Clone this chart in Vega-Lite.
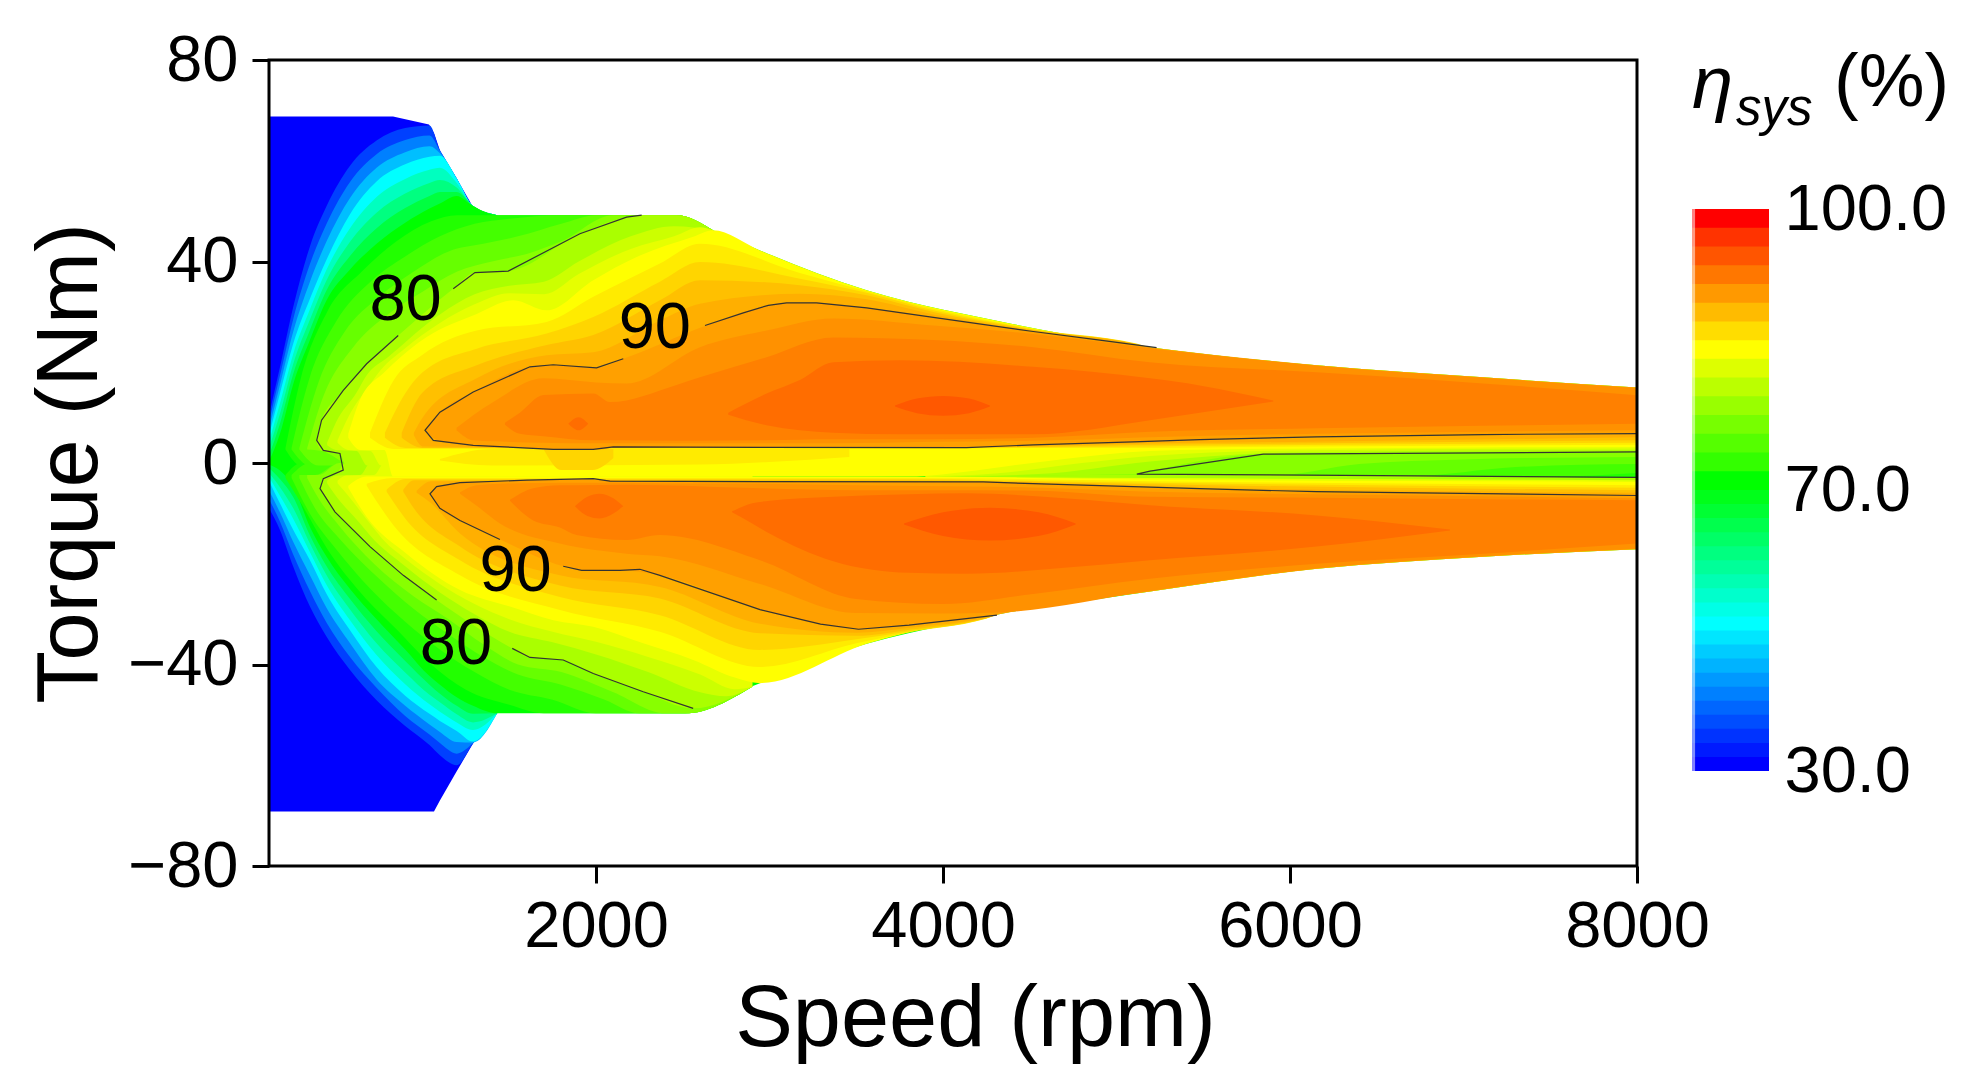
{"$schema":"https://vega.github.io/schema/vega-lite/v6.json","background":"white","padding":{"left":27,"top":28,"right":5,"bottom":5},"bounds":"flush","spacing":55,"config":{"view":{"stroke":null},"font":"Liberation Sans","axis":{"grid":false,"labelFont":"Liberation Sans","titleFont":"Liberation Sans","labelFontSize":65,"titleFontSize":86.5,"titleFontWeight":"normal","labelColor":"#000","titleColor":"#000","tickColor":"#000","domainColor":"#000","tickWidth":3,"domainWidth":3,"tickSize":17}},"datasets":{"bands":[
{"l":30,"p":"m","s":115,"a":-69.2,"b":68.8},{"l":30,"p":"m","s":830,"a":-69.2,"b":68.8},{"l":30,"p":"m","s":1037,"a":-69.2,"b":67.2},{"l":30,"p":"m","s":1066,"a":-69.2,"b":65.5},{"l":30,"p":"m","s":1100,"a":-67,"b":62.1},{"l":30,"p":"m","s":1197,"a":-61.2,"b":56.5},{"l":30,"p":"m","s":1291,"a":-55.7,"b":50.8},{"l":30,"p":"m","s":1341,"a":-53,"b":48.9},{"l":30,"p":"m","s":1430,"a":-49.4,"b":48.9},{"l":30,"p":"m","s":2465,"a":-49.4,"b":48.9},{"l":30,"p":"m","s":2513,"a":-49.4,"b":48},{"l":30,"p":"m","s":2674,"a":-46.8,"b":45.7},{"l":30,"p":"m","s":2945,"a":-43.2,"b":41.7},{"l":30,"p":"m","s":3560,"a":-35.4,"b":33.8},{"l":30,"p":"m","s":3800,"a":-33.3,"b":31.5},{"l":30,"p":"m","s":4190,"a":-30.5,"b":28.6},{"l":30,"p":"m","s":4400,"a":-29,"b":27.1},{"l":30,"p":"m","s":4700,"a":-27.5,"b":25.1},{"l":30,"p":"m","s":5193,"a":-25,"b":22.5},{"l":30,"p":"m","s":6155,"a":-20.5,"b":18.9},{"l":30,"p":"m","s":7113,"a":-18.1,"b":16.5},{"l":30,"p":"m","s":8000,"a":-16.6,"b":14.5},
{"l":35,"p":"m","s":115,"a":-9,"b":9.5},{"l":35,"p":"m","s":178,"a":-13.3,"b":19},{"l":35,"p":"m","s":255,"a":-20.6,"b":31},{"l":35,"p":"m","s":351,"a":-28.5,"b":43},{"l":35,"p":"m","s":447,"a":-34.5,"b":51},{"l":35,"p":"m","s":582,"a":-41.1,"b":59},{"l":35,"p":"m","s":735,"a":-47.1,"b":64},{"l":35,"p":"m","s":900,"a":-52.2,"b":66.5},{"l":35,"p":"m","s":1040,"a":-56,"b":67},{"l":35,"p":"m","s":1100,"a":-58,"b":62.1},{"l":35,"p":"m","s":1197,"a":-60,"b":56.5},{"l":35,"p":"m","s":1291,"a":-55.7,"b":51},{"l":35,"p":"m","s":1430,"a":-49.7,"b":49.2},
{"l":40,"p":"m","s":115,"a":-7.2,"b":8.2},{"l":40,"p":"m","s":178,"a":-11.6,"b":17.3},{"l":40,"p":"m","s":255,"a":-18.2,"b":28.6},{"l":40,"p":"m","s":351,"a":-25.4,"b":39.5},{"l":40,"p":"m","s":447,"a":-31.7,"b":47.5},{"l":40,"p":"m","s":582,"a":-38.5,"b":55.8},{"l":40,"p":"m","s":735,"a":-44.6,"b":61.3},{"l":40,"p":"m","s":900,"a":-50.2,"b":64.1},{"l":40,"p":"m","s":1040,"a":-53.9,"b":65},{"l":40,"p":"m","s":1100,"a":-55.6,"b":62},{"l":40,"p":"m","s":1197,"a":-57.7,"b":56.5},{"l":40,"p":"m","s":1291,"a":-55.6,"b":51},{"l":40,"p":"m","s":1430,"a":-49.7,"b":49.2},
{"l":45,"p":"m","s":115,"a":-5.4,"b":6.8},{"l":45,"p":"m","s":178,"a":-9.8,"b":15.5},{"l":45,"p":"m","s":255,"a":-15.7,"b":26.1},{"l":45,"p":"m","s":351,"a":-22.3,"b":36},{"l":45,"p":"m","s":447,"a":-28.8,"b":44},{"l":45,"p":"m","s":582,"a":-35.8,"b":52.6},{"l":45,"p":"m","s":735,"a":-43,"b":58.6},{"l":45,"p":"m","s":900,"a":-48.2,"b":61.7},{"l":45,"p":"m","s":1040,"a":-51.9,"b":62.9},{"l":45,"p":"m","s":1100,"a":-53.4,"b":61.5},{"l":45,"p":"m","s":1197,"a":-55.4,"b":56.5},{"l":45,"p":"m","s":1291,"a":-55.5,"b":51},{"l":45,"p":"m","s":1430,"a":-49.7,"b":49.2},
{"l":50,"p":"m","s":115,"a":-3.5,"b":5.5},{"l":50,"p":"m","s":178,"a":-8,"b":13.8},{"l":50,"p":"m","s":255,"a":-13.3,"b":23.7},{"l":50,"p":"m","s":351,"a":-19.3,"b":32.6},{"l":50,"p":"m","s":447,"a":-26,"b":40.4},{"l":50,"p":"m","s":582,"a":-33.2,"b":49.4},{"l":50,"p":"m","s":735,"a":-40.5,"b":55.9},{"l":50,"p":"m","s":900,"a":-46.2,"b":59.3},{"l":50,"p":"m","s":1040,"a":-49.8,"b":60.8},{"l":50,"p":"m","s":1100,"a":-51.2,"b":61},{"l":50,"p":"m","s":1197,"a":-53.2,"b":56.5},{"l":50,"p":"m","s":1291,"a":-55.3,"b":51},{"l":50,"p":"m","s":1430,"a":-49.7,"b":49.2},
{"l":55,"p":"m","s":115,"a":-2.8,"b":4.2},{"l":55,"p":"m","s":178,"a":-6.5,"b":11.8},{"l":55,"p":"m","s":255,"a":-11.1,"b":21.7},{"l":55,"p":"m","s":351,"a":-17.7,"b":30.5},{"l":55,"p":"m","s":447,"a":-24.2,"b":38.4},{"l":55,"p":"m","s":582,"a":-31.2,"b":46.6},{"l":55,"p":"m","s":735,"a":-38.1,"b":52.8},{"l":55,"p":"m","s":900,"a":-43.9,"b":56.4},{"l":55,"p":"m","s":1040,"a":-47.9,"b":58.2},{"l":55,"p":"m","s":1100,"a":-49.4,"b":58.6},{"l":55,"p":"m","s":1197,"a":-51.5,"b":55.6},{"l":55,"p":"m","s":1291,"a":-53,"b":51},{"l":55,"p":"m","s":1430,"a":-49.7,"b":49.2},
{"l":60,"p":"m","s":115,"a":-2,"b":3},{"l":60,"p":"m","s":178,"a":-4.8,"b":9.8},{"l":60,"p":"m","s":255,"a":-9,"b":19.7},{"l":60,"p":"m","s":351,"a":-16,"b":28.5},{"l":60,"p":"m","s":447,"a":-22.3,"b":36.3},{"l":60,"p":"m","s":582,"a":-29.1,"b":43.9},{"l":60,"p":"m","s":735,"a":-35.8,"b":49.7},{"l":60,"p":"m","s":900,"a":-41.6,"b":53.5},{"l":60,"p":"m","s":1040,"a":-46,"b":55.6},{"l":60,"p":"m","s":1100,"a":-47.5,"b":56.2},{"l":60,"p":"m","s":1197,"a":-49.9,"b":54.7},{"l":60,"p":"m","s":1291,"a":-51.5,"b":51},{"l":60,"p":"m","s":1430,"a":-49.7,"b":49.2},
{"l":65,"p":"m","s":115,"a":-1,"b":1.5},{"l":65,"p":"m","s":178,"a":-3.2,"b":7.8},{"l":65,"p":"m","s":255,"a":-6.8,"b":17.7},{"l":65,"p":"m","s":351,"a":-14.4,"b":26.4},{"l":65,"p":"m","s":447,"a":-20.5,"b":34.3},{"l":65,"p":"m","s":582,"a":-27,"b":41.1},{"l":65,"p":"m","s":735,"a":-33.4,"b":46.6},{"l":65,"p":"m","s":900,"a":-39.3,"b":50.6},{"l":65,"p":"m","s":1040,"a":-44,"b":53},{"l":65,"p":"m","s":1100,"a":-45.8,"b":53.8},{"l":65,"p":"m","s":1197,"a":-48.2,"b":53.8},{"l":65,"p":"m","s":1291,"a":-49.8,"b":51},{"l":65,"p":"m","s":1430,"a":-49.7,"b":49.2},
{"l":70,"p":"m","s":115,"a":-0.3,"b":0.3},{"l":70,"p":"m","s":178,"a":-1.5,"b":5.8},{"l":70,"p":"m","s":255,"a":-4.7,"b":15.7},{"l":70,"p":"m","s":351,"a":-12.7,"b":24.4},{"l":70,"p":"m","s":447,"a":-18.6,"b":32.3},{"l":70,"p":"m","s":582,"a":-25,"b":38.4},{"l":70,"p":"m","s":735,"a":-31,"b":43.5},{"l":70,"p":"m","s":900,"a":-37,"b":47.7},{"l":70,"p":"m","s":1040,"a":-42.3,"b":50.5},{"l":70,"p":"m","s":1100,"a":-44,"b":51.5},{"l":70,"p":"m","s":1197,"a":-46.5,"b":53},{"l":70,"p":"m","s":1291,"a":-48.2,"b":51},{"l":70,"p":"m","s":1430,"a":-49.7,"b":49.2},{"l":70,"p":"m","s":2465,"a":-49.7,"b":49.2},{"l":70,"p":"m","s":2513,"a":-49.7,"b":48.5},{"l":70,"p":"m","s":2674,"a":-47.3,"b":46.2},{"l":70,"p":"m","s":2945,"a":-43.7,"b":42.2},{"l":70,"p":"m","s":3560,"a":-35.9,"b":34.3},{"l":70,"p":"m","s":3800,"a":-33.8,"b":32},{"l":70,"p":"m","s":4190,"a":-31,"b":29.1},{"l":70,"p":"m","s":4400,"a":-29.5,"b":27.6},{"l":70,"p":"m","s":4700,"a":-28,"b":25.6},{"l":70,"p":"m","s":5193,"a":-25.5,"b":23},{"l":70,"p":"m","s":6155,"a":-21,"b":19.4},{"l":70,"p":"m","s":7113,"a":-18.6,"b":17},{"l":70,"p":"m","s":8000,"a":-17.1,"b":15},
{"l":72,"p":"u","s":210,"a":2.7,"b":3},{"l":72,"p":"u","s":300,"a":-0.5,"b":17},{"l":72,"p":"u","s":450,"a":-0.5,"b":30},{"l":72,"p":"u","s":650,"a":-0.5,"b":38},{"l":72,"p":"u","s":850,"a":-0.5,"b":44},{"l":72,"p":"u","s":1050,"a":-0.5,"b":48},{"l":72,"p":"u","s":1200,"a":-0.5,"b":49.2},{"l":72,"p":"u","s":2465,"a":-0.5,"b":49.2},{"l":72,"p":"u","s":2674,"a":-0.5,"b":46.2},
{"l":72,"p":"d","s":210,"a":-3,"b":-2.4},{"l":72,"p":"d","s":300,"a":-8,"b":0},{"l":72,"p":"d","s":450,"a":-17,"b":0},{"l":72,"p":"d","s":650,"a":-26,"b":0},{"l":72,"p":"d","s":850,"a":-33,"b":0},{"l":72,"p":"d","s":1050,"a":-40,"b":0},{"l":72,"p":"d","s":1250,"a":-45,"b":0},{"l":72,"p":"d","s":1500,"a":-48,"b":0},{"l":72,"p":"d","s":1700,"a":-49.7,"b":0},{"l":72,"p":"d","s":2513,"a":-49.7,"b":0},{"l":72,"p":"d","s":2900,"a":-44.4,"b":0},
{"l":72,"p":"r","s":3900,"a":-3,"b":3.6},{"l":72,"p":"r","s":8000,"a":-3,"b":3.6},
{"l":74,"p":"u","s":245,"a":2.7,"b":3},{"l":74,"p":"u","s":350,"a":-0.5,"b":17},{"l":74,"p":"u","s":500,"a":-0.5,"b":28},{"l":74,"p":"u","s":700,"a":-0.5,"b":36},{"l":74,"p":"u","s":900,"a":-0.5,"b":41},{"l":74,"p":"u","s":1100,"a":-0.5,"b":45},{"l":74,"p":"u","s":1300,"a":-0.5,"b":47.5},{"l":74,"p":"u","s":1500,"a":-0.5,"b":48.5},{"l":74,"p":"u","s":1800,"a":-0.5,"b":49.2},{"l":74,"p":"u","s":2465,"a":-0.5,"b":49.2},{"l":74,"p":"u","s":2674,"a":-0.5,"b":46.2},
{"l":74,"p":"d","s":245,"a":-3,"b":-2.4},{"l":74,"p":"d","s":350,"a":-10,"b":0},{"l":74,"p":"d","s":500,"a":-17,"b":0},{"l":74,"p":"d","s":700,"a":-25,"b":0},{"l":74,"p":"d","s":900,"a":-31.5,"b":0},{"l":74,"p":"d","s":1100,"a":-37,"b":0},{"l":74,"p":"d","s":1300,"a":-41.5,"b":0},{"l":74,"p":"d","s":1500,"a":-45,"b":0},{"l":74,"p":"d","s":1750,"a":-47,"b":0},{"l":74,"p":"d","s":2000,"a":-49.7,"b":0},{"l":74,"p":"d","s":2513,"a":-49.7,"b":0},{"l":74,"p":"d","s":2900,"a":-44.4,"b":0},
{"l":74,"p":"r","s":3900,"a":-2.75,"b":3.6},{"l":74,"p":"r","s":7500,"a":-2.7,"b":3.6},{"l":74,"p":"r","s":8000,"a":-2,"b":3.6},
{"l":76,"p":"u","s":290,"a":2.7,"b":3},{"l":76,"p":"u","s":400,"a":-0.5,"b":16},{"l":76,"p":"u","s":550,"a":-0.5,"b":26},{"l":76,"p":"u","s":750,"a":-0.5,"b":33},{"l":76,"p":"u","s":950,"a":-0.5,"b":38},{"l":76,"p":"u","s":1150,"a":-0.5,"b":42},{"l":76,"p":"u","s":1350,"a":-0.5,"b":43.5},{"l":76,"p":"u","s":1550,"a":-0.5,"b":45},{"l":76,"p":"u","s":1800,"a":-0.5,"b":47.5},{"l":76,"p":"u","s":2000,"a":-0.5,"b":49.2},{"l":76,"p":"u","s":2465,"a":-0.5,"b":49.2},{"l":76,"p":"u","s":2674,"a":-0.5,"b":46.2},
{"l":76,"p":"d","s":290,"a":-3,"b":-2.4},{"l":76,"p":"d","s":380,"a":-9,"b":-2.4},{"l":76,"p":"d","s":520,"a":-15,"b":0},{"l":76,"p":"d","s":750,"a":-23,"b":0},{"l":76,"p":"d","s":950,"a":-29,"b":0},{"l":76,"p":"d","s":1150,"a":-34,"b":0},{"l":76,"p":"d","s":1350,"a":-38.5,"b":0},{"l":76,"p":"d","s":1550,"a":-42,"b":0},{"l":76,"p":"d","s":1800,"a":-44,"b":0},{"l":76,"p":"d","s":2050,"a":-47,"b":0},{"l":76,"p":"d","s":2250,"a":-49.7,"b":0},{"l":76,"p":"d","s":2513,"a":-49.7,"b":0},{"l":76,"p":"d","s":2900,"a":-44.4,"b":0},
{"l":76,"p":"r","s":3900,"a":-2.7,"b":3.6},{"l":76,"p":"r","s":6700,"a":-2.6,"b":3.6},{"l":76,"p":"r","s":7300,"a":-0.8,"b":3.6},{"l":76,"p":"r","s":8000,"a":-0.2,"b":3.6},
{"l":78,"p":"u","s":335,"a":2.7,"b":3},{"l":78,"p":"u","s":420,"a":2.4,"b":12.5},{"l":78,"p":"u","s":600,"a":-0.5,"b":23},{"l":78,"p":"u","s":800,"a":-0.5,"b":29.5},{"l":78,"p":"u","s":1000,"a":-0.5,"b":34},{"l":78,"p":"u","s":1200,"a":-0.5,"b":38},{"l":78,"p":"u","s":1400,"a":-0.5,"b":40},{"l":78,"p":"u","s":1600,"a":-0.5,"b":41.5},{"l":78,"p":"u","s":1800,"a":-0.5,"b":44},{"l":78,"p":"u","s":2100,"a":-0.5,"b":49.2},{"l":78,"p":"u","s":2465,"a":-0.5,"b":49.2},{"l":78,"p":"u","s":2674,"a":-0.5,"b":46.2},
{"l":78,"p":"d","s":335,"a":-3,"b":-2.4},{"l":78,"p":"d","s":400,"a":-7,"b":-2.4},{"l":78,"p":"d","s":520,"a":-12.5,"b":0},{"l":78,"p":"d","s":720,"a":-20,"b":0},{"l":78,"p":"d","s":950,"a":-26.5,"b":0},{"l":78,"p":"d","s":1150,"a":-31,"b":0},{"l":78,"p":"d","s":1350,"a":-36,"b":0},{"l":78,"p":"d","s":1550,"a":-40,"b":0},{"l":78,"p":"d","s":1800,"a":-41.5,"b":0},{"l":78,"p":"d","s":2100,"a":-45.5,"b":0},{"l":78,"p":"d","s":2400,"a":-49.7,"b":0},{"l":78,"p":"d","s":2513,"a":-49.7,"b":0},{"l":78,"p":"d","s":2900,"a":-44.4,"b":0},
{"l":78,"p":"r","s":3900,"a":-2.7,"b":3.6},{"l":78,"p":"r","s":5900,"a":-2.5,"b":3.6},{"l":78,"p":"r","s":6400,"a":-0.2,"b":3.6},{"l":78,"p":"r","s":7000,"a":0.7,"b":3.6},{"l":78,"p":"r","s":8000,"a":1.2,"b":3.6},
{"l":80,"p":"u","s":390,"a":4,"b":5},{"l":80,"p":"u","s":418,"a":2.5,"b":8.5},{"l":80,"p":"u","s":524,"a":1.9,"b":13.5},{"l":80,"p":"u","s":560,"a":-0.5,"b":15},{"l":80,"p":"u","s":678,"a":-0.5,"b":19.7},{"l":80,"p":"u","s":860,"a":-0.5,"b":25.3},{"l":80,"p":"u","s":1177,"a":-0.5,"b":34.6},{"l":80,"p":"u","s":1302,"a":-0.5,"b":37.8},{"l":80,"p":"u","s":1494,"a":-0.5,"b":38.1},{"l":80,"p":"u","s":1907,"a":-0.5,"b":45.5},{"l":80,"p":"u","s":2176,"a":-0.5,"b":48.8},{"l":80,"p":"u","s":2263,"a":-0.5,"b":49.2},{"l":80,"p":"u","s":2465,"a":-0.5,"b":49.2},{"l":80,"p":"u","s":2674,"a":-0.5,"b":46.2},
{"l":80,"p":"d","s":409,"a":-5.1,"b":-4.9},{"l":80,"p":"d","s":428,"a":-6,"b":-3.1},{"l":80,"p":"d","s":495,"a":-9.7,"b":-2.4},{"l":80,"p":"d","s":560,"a":-12,"b":0},{"l":80,"p":"d","s":697,"a":-16.6,"b":0},{"l":80,"p":"d","s":889,"a":-22.3,"b":0},{"l":80,"p":"d","s":1081,"a":-27.2,"b":0},{"l":80,"p":"d","s":1517,"a":-36.8,"b":0},{"l":80,"p":"d","s":1619,"a":-38.6,"b":0},{"l":80,"p":"d","s":1811,"a":-39.1,"b":0},{"l":80,"p":"d","s":1984,"a":-41.8,"b":0},{"l":80,"p":"d","s":2272,"a":-45.4,"b":0},{"l":80,"p":"d","s":2560,"a":-48.7,"b":0},{"l":80,"p":"d","s":2900,"a":-44.4,"b":0},
{"l":80,"p":"r","s":3900,"a":-2.7,"b":3.6},{"l":80,"p":"r","s":5117,"a":-2.2,"b":3.6},{"l":80,"p":"r","s":5193,"a":-1.6,"b":3.6},{"l":80,"p":"r","s":5846,"a":1.75,"b":3.6},{"l":80,"p":"r","s":8000,"a":2.2,"b":3.6},
{"l":80,"p":"q","s":3900,"a":-3,"b":-2.7},{"l":80,"p":"q","s":5193,"a":-3.6,"b":-2.35},{"l":80,"p":"q","s":8000,"a":-4,"b":-2.9},
{"l":82,"p":"u","s":450,"a":3.5,"b":4},{"l":82,"p":"u","s":500,"a":2.6,"b":8},{"l":82,"p":"u","s":620,"a":2.4,"b":14},{"l":82,"p":"u","s":680,"a":-0.5,"b":17.5},{"l":82,"p":"u","s":800,"a":-0.5,"b":21},{"l":82,"p":"u","s":1100,"a":-0.5,"b":29.5},{"l":82,"p":"u","s":1300,"a":-0.5,"b":33.5},{"l":82,"p":"u","s":1500,"a":-0.5,"b":35.2},{"l":82,"p":"u","s":1700,"a":-0.5,"b":36},{"l":82,"p":"u","s":1900,"a":-0.5,"b":40},{"l":82,"p":"u","s":2200,"a":-0.5,"b":45},{"l":82,"p":"u","s":2450,"a":-0.5,"b":47},{"l":82,"p":"u","s":2674,"a":-0.5,"b":46.2},
{"l":82,"p":"d","s":450,"a":-4,"b":-3.5},{"l":82,"p":"d","s":500,"a":-6.5,"b":-2.5},{"l":82,"p":"d","s":640,"a":-12,"b":-2.4},{"l":82,"p":"d","s":700,"a":-14.5,"b":0},{"l":82,"p":"d","s":900,"a":-20.5,"b":0},{"l":82,"p":"d","s":1100,"a":-25.7,"b":0},{"l":82,"p":"d","s":1300,"a":-30,"b":0},{"l":82,"p":"d","s":1500,"a":-33.5,"b":0},{"l":82,"p":"d","s":1750,"a":-35.6,"b":0},{"l":82,"p":"d","s":2000,"a":-38,"b":0},{"l":82,"p":"d","s":2300,"a":-41.5,"b":0},{"l":82,"p":"d","s":2600,"a":-45.5,"b":0},{"l":82,"p":"d","s":2750,"a":-46.3,"b":0},{"l":82,"p":"d","s":2900,"a":-44.4,"b":0},
{"l":82,"p":"r","s":3900,"a":-2.7,"b":3.6},{"l":82,"p":"r","s":4550,"a":-2.2,"b":3.6},{"l":82,"p":"r","s":5193,"a":0.3,"b":3.6},{"l":82,"p":"r","s":6000,"a":2.1,"b":3.6},{"l":82,"p":"r","s":8000,"a":2.6,"b":3.6},
{"l":83.5,"p":"u","s":510,"a":4,"b":4.5},{"l":83.5,"p":"u","s":570,"a":2.6,"b":9},{"l":83.5,"p":"u","s":700,"a":2.4,"b":15.7},{"l":83.5,"p":"u","s":760,"a":-0.5,"b":18.5},{"l":83.5,"p":"u","s":900,"a":-0.5,"b":22.8},{"l":83.5,"p":"u","s":1100,"a":-0.5,"b":27.8},{"l":83.5,"p":"u","s":1300,"a":-0.5,"b":31.5},{"l":83.5,"p":"u","s":1500,"a":-0.5,"b":33.7},{"l":83.5,"p":"u","s":1700,"a":-0.5,"b":33.5},{"l":83.5,"p":"u","s":1900,"a":-0.5,"b":37.5},{"l":83.5,"p":"u","s":2200,"a":-0.5,"b":42.5},{"l":83.5,"p":"u","s":2450,"a":-0.5,"b":45},{"l":83.5,"p":"u","s":2600,"a":-0.5,"b":46.8},{"l":83.5,"p":"u","s":2674,"a":-0.5,"b":46.2},
{"l":83.5,"p":"d","s":510,"a":-4,"b":-3.5},{"l":83.5,"p":"d","s":560,"a":-6,"b":-2.5},{"l":83.5,"p":"d","s":720,"a":-13,"b":-2.4},{"l":83.5,"p":"d","s":780,"a":-15.5,"b":0},{"l":83.5,"p":"d","s":900,"a":-19,"b":0},{"l":83.5,"p":"d","s":1100,"a":-24,"b":0},{"l":83.5,"p":"d","s":1300,"a":-28,"b":0},{"l":83.5,"p":"d","s":1500,"a":-31,"b":0},{"l":83.5,"p":"d","s":1750,"a":-33.5,"b":0},{"l":83.5,"p":"d","s":2000,"a":-35.5,"b":0},{"l":83.5,"p":"d","s":2300,"a":-38.5,"b":0},{"l":83.5,"p":"d","s":2600,"a":-42,"b":0},{"l":83.5,"p":"d","s":2800,"a":-44.9,"b":0},{"l":83.5,"p":"d","s":2900,"a":-44.4,"b":0},
{"l":83.5,"p":"r","s":3900,"a":-2.7,"b":3.6},{"l":83.5,"p":"r","s":4300,"a":-2.1,"b":3.6},{"l":83.5,"p":"r","s":4800,"a":0,"b":3.6},{"l":83.5,"p":"r","s":5193,"a":1.4,"b":3.6},{"l":83.5,"p":"r","s":6000,"a":2.5,"b":3.6},{"l":83.5,"p":"r","s":8000,"a":2.9,"b":3.6},
{"l":83.5,"p":"q","s":3900,"a":-3,"b":-2.7},{"l":83.5,"p":"q","s":5193,"a":-3.6,"b":-3},{"l":83.5,"p":"q","s":8000,"a":-4,"b":-3.4},
{"l":85,"p":"u","s":572,"a":5,"b":5.8},{"l":85,"p":"u","s":639,"a":2.6,"b":12.5},{"l":85,"p":"u","s":780,"a":2.6,"b":18},{"l":85,"p":"u","s":831,"a":-2.7,"b":19.7},{"l":85,"p":"u","s":1024,"a":-2.7,"b":25},{"l":85,"p":"u","s":1312,"a":-2.7,"b":29.6},{"l":85,"p":"u","s":1523,"a":-2.7,"b":32.3},{"l":85,"p":"u","s":1715,"a":-2.7,"b":30.3},{"l":85,"p":"u","s":1984,"a":-2.7,"b":36.3},{"l":85,"p":"u","s":2234,"a":-2.7,"b":40.9},{"l":85,"p":"u","s":2560,"a":-2.7,"b":44.9},{"l":85,"p":"u","s":2674,"a":-2.7,"b":46.2},{"l":85,"p":"u","s":2945,"a":-2.7,"b":42.2},{"l":85,"p":"u","s":3560,"a":-2.7,"b":34.3},{"l":85,"p":"u","s":3800,"a":-2.7,"b":32},{"l":85,"p":"u","s":4190,"a":-1.5,"b":29.1},{"l":85,"p":"u","s":4400,"a":-0.5,"b":27.6},{"l":85,"p":"u","s":4700,"a":0.8,"b":25.6},{"l":85,"p":"u","s":5193,"a":2.4,"b":23},{"l":85,"p":"u","s":6155,"a":2.9,"b":19.4},{"l":85,"p":"u","s":7113,"a":3.1,"b":17},{"l":85,"p":"u","s":8000,"a":3.2,"b":15},
{"l":85,"p":"d","s":572,"a":-4.9,"b":-4.5},{"l":85,"p":"d","s":678,"a":-10.7,"b":-2.7},{"l":85,"p":"d","s":908,"a":-18,"b":-2.7},{"l":85,"p":"d","s":1216,"a":-25.2,"b":-2.7},{"l":85,"p":"d","s":1504,"a":-28.5,"b":-2.7},{"l":85,"p":"d","s":1754,"a":-31.2,"b":-2.7},{"l":85,"p":"d","s":1984,"a":-32.5,"b":-2.7},{"l":85,"p":"d","s":2272,"a":-35.8,"b":-2.7},{"l":85,"p":"d","s":2560,"a":-39.1,"b":-2.7},{"l":85,"p":"d","s":2800,"a":-42.6,"b":-2.7},{"l":85,"p":"d","s":2945,"a":-43.7,"b":-2.7},{"l":85,"p":"d","s":3560,"a":-35.9,"b":-2.7},{"l":85,"p":"d","s":4400,"a":-29.5,"b":-2.9},{"l":85,"p":"d","s":5193,"a":-25.5,"b":-3.3},{"l":85,"p":"d","s":6155,"a":-21,"b":-3.5},{"l":85,"p":"d","s":7113,"a":-18.6,"b":-3.6},{"l":85,"p":"d","s":8000,"a":-17.1,"b":-3.75},
{"l":86.2,"p":"c","s":1100,"a":0.5,"b":0.8},{"l":86.2,"p":"c","s":1400,"a":-0.5,"b":2.8},{"l":86.2,"p":"c","s":2600,"a":-0.3,"b":2.8},{"l":86.2,"p":"c","s":3000,"a":0.2,"b":2.8},{"l":86.2,"p":"c","s":3460,"a":1.2,"b":2.8},
{"l":86.2,"p":"u","s":697,"a":5,"b":6},{"l":86.2,"p":"u","s":831,"a":2.8,"b":16.3},{"l":86.2,"p":"u","s":1000,"a":2.8,"b":21.5},{"l":86.2,"p":"u","s":1312,"a":2.8,"b":26.3},{"l":86.2,"p":"u","s":1715,"a":2.8,"b":28},{"l":86.2,"p":"u","s":1984,"a":2.8,"b":33},{"l":86.2,"p":"u","s":2368,"a":2.8,"b":39.6},{"l":86.2,"p":"u","s":2599,"a":2.8,"b":43.5},{"l":86.2,"p":"u","s":3175,"a":2.8,"b":37.7},{"l":86.2,"p":"u","s":3560,"a":2.8,"b":34.1},{"l":86.2,"p":"u","s":3944,"a":2.8,"b":30.6},{"l":86.2,"p":"u","s":4520,"a":3,"b":26.6},{"l":86.2,"p":"u","s":5200,"a":3,"b":22.9},{"l":86.2,"p":"u","s":5500,"a":3.1,"b":7},{"l":86.2,"p":"u","s":8000,"a":3.6,"b":7},
{"l":86.2,"p":"d","s":678,"a":-4.5,"b":-4.1},{"l":86.2,"p":"d","s":831,"a":-12.3,"b":-3},{"l":86.2,"p":"d","s":1216,"a":-22.3,"b":-3},{"l":86.2,"p":"d","s":1792,"a":-29.2,"b":-3},{"l":86.2,"p":"d","s":2368,"a":-33.5,"b":-3},{"l":86.2,"p":"d","s":2945,"a":-40.5,"b":-3},{"l":86.2,"p":"d","s":3500,"a":-35.8,"b":-3},{"l":86.2,"p":"d","s":3804,"a":-33.6,"b":-3},{"l":86.2,"p":"d","s":4311,"a":-30.1,"b":-3.1},{"l":86.2,"p":"d","s":4600,"a":-7.5,"b":-3.3},{"l":86.2,"p":"d","s":5193,"a":-7.5,"b":-3.6},{"l":86.2,"p":"d","s":8000,"a":-7.5,"b":-4.4},
{"l":87.5,"p":"c","s":1700,"a":2.6,"b":2.8},{"l":87.5,"p":"c","s":1800,"a":-1.4,"b":2.8},{"l":87.5,"p":"c","s":1980,"a":-1.4,"b":2.8},{"l":87.5,"p":"c","s":2100,"a":1,"b":2.8},
{"l":87.5,"p":"u","s":783,"a":5,"b":6},{"l":87.5,"p":"u","s":900,"a":3,"b":13.8},{"l":87.5,"p":"u","s":1000,"a":3,"b":18},{"l":87.5,"p":"u","s":1312,"a":3,"b":22.7},{"l":87.5,"p":"u","s":1715,"a":3,"b":25.7},{"l":87.5,"p":"u","s":1984,"a":3,"b":29},{"l":87.5,"p":"u","s":2368,"a":3,"b":36},{"l":87.5,"p":"u","s":2599,"a":3,"b":39.9},{"l":87.5,"p":"u","s":3175,"a":3,"b":36.6},{"l":87.5,"p":"u","s":3560,"a":3,"b":33.8},{"l":87.5,"p":"u","s":3944,"a":3,"b":30.3},{"l":87.5,"p":"u","s":4520,"a":3.1,"b":26.5},{"l":87.5,"p":"u","s":5200,"a":3.3,"b":22.8},{"l":87.5,"p":"u","s":5500,"a":3.4,"b":7},{"l":87.5,"p":"u","s":8000,"a":4,"b":7},
{"l":87.5,"p":"d","s":793,"a":-5.7,"b":-5.3},{"l":87.5,"p":"d","s":900,"a":-11,"b":-3.2},{"l":87.5,"p":"d","s":1216,"a":-19.3,"b":-3.2},{"l":87.5,"p":"d","s":1792,"a":-26.6,"b":-3.2},{"l":87.5,"p":"d","s":2368,"a":-30.2,"b":-3.2},{"l":87.5,"p":"d","s":2945,"a":-37.1,"b":-3.2},{"l":87.5,"p":"d","s":3500,"a":-35,"b":-3.2},{"l":87.5,"p":"d","s":3804,"a":-33.4,"b":-3.2},{"l":87.5,"p":"d","s":4311,"a":-30.1,"b":-3.4},{"l":87.5,"p":"d","s":4600,"a":-7.5,"b":-3.6},{"l":87.5,"p":"d","s":5193,"a":-7.5,"b":-3.9},{"l":87.5,"p":"d","s":8000,"a":-7.5,"b":-4.9},
{"l":88.7,"p":"u","s":880,"a":5,"b":6},{"l":88.7,"p":"u","s":1000,"a":3,"b":14},{"l":88.7,"p":"u","s":1312,"a":3,"b":19.4},{"l":88.7,"p":"u","s":1715,"a":3,"b":23.4},{"l":88.7,"p":"u","s":1984,"a":3,"b":25.4},{"l":88.7,"p":"u","s":2368,"a":3,"b":32.3},{"l":88.7,"p":"u","s":2599,"a":3,"b":36.3},{"l":88.7,"p":"u","s":3175,"a":3,"b":35.3},{"l":88.7,"p":"u","s":3560,"a":3,"b":33.3},{"l":88.7,"p":"u","s":3944,"a":3,"b":30},{"l":88.7,"p":"u","s":4520,"a":3.2,"b":26.4},{"l":88.7,"p":"u","s":5200,"a":3.6,"b":22.8},{"l":88.7,"p":"u","s":5500,"a":3.7,"b":7},{"l":88.7,"p":"u","s":8000,"a":4.5,"b":7},
{"l":88.7,"p":"d","s":889,"a":-5.7,"b":-5.3},{"l":88.7,"p":"d","s":950,"a":-9,"b":-3.4},{"l":88.7,"p":"d","s":1216,"a":-16.6,"b":-3.4},{"l":88.7,"p":"d","s":1792,"a":-24.3,"b":-3.4},{"l":88.7,"p":"d","s":2368,"a":-26.9,"b":-3.4},{"l":88.7,"p":"d","s":2945,"a":-33.8,"b":-3.4},{"l":88.7,"p":"d","s":3500,"a":-34.3,"b":-3.4},{"l":88.7,"p":"d","s":3804,"a":-33.1,"b":-3.4},{"l":88.7,"p":"d","s":4311,"a":-30.1,"b":-3.6},{"l":88.7,"p":"d","s":4600,"a":-7.5,"b":-3.8},{"l":88.7,"p":"d","s":5193,"a":-7.5,"b":-4.2},{"l":88.7,"p":"d","s":8000,"a":-7.5,"b":-5.4},
{"l":89.7,"p":"u","s":950,"a":5.5,"b":6},{"l":89.7,"p":"u","s":1000,"a":3.3,"b":9},{"l":89.7,"p":"u","s":1312,"a":3.2,"b":16.8},{"l":89.7,"p":"u","s":1715,"a":3,"b":21.4},{"l":89.7,"p":"u","s":1984,"a":3,"b":22},{"l":89.7,"p":"u","s":2368,"a":3,"b":28.3},{"l":89.7,"p":"u","s":2599,"a":3,"b":31.6},{"l":89.7,"p":"u","s":3175,"a":3,"b":33.6},{"l":89.7,"p":"u","s":3560,"a":3,"b":32.5},{"l":89.7,"p":"u","s":3944,"a":3,"b":29.5},{"l":89.7,"p":"u","s":4520,"a":3.4,"b":26.3},{"l":89.7,"p":"u","s":5200,"a":3.9,"b":22.8},{"l":89.7,"p":"u","s":5500,"a":4,"b":7},{"l":89.7,"p":"u","s":8000,"a":5.1,"b":7},
{"l":89.7,"p":"d","s":966,"a":-5.9,"b":-5.5},{"l":89.7,"p":"d","s":1050,"a":-8,"b":-3.6},{"l":89.7,"p":"d","s":1216,"a":-14,"b":-3.6},{"l":89.7,"p":"d","s":1792,"a":-22.3,"b":-3.6},{"l":89.7,"p":"d","s":2368,"a":-24.6,"b":-3.6},{"l":89.7,"p":"d","s":2945,"a":-31.9,"b":-3.6},{"l":89.7,"p":"d","s":3500,"a":-33.7,"b":-3.6},{"l":89.7,"p":"d","s":3804,"a":-32.7,"b":-3.6},{"l":89.7,"p":"d","s":4311,"a":-30.1,"b":-3.7},{"l":89.7,"p":"d","s":4600,"a":-7.5,"b":-4},{"l":89.7,"p":"d","s":5193,"a":-7.5,"b":-4.6},{"l":89.7,"p":"d","s":8000,"a":-7.5,"b":-5.9},
{"l":90.6,"p":"u","s":1014,"a":6.3,"b":6.7},{"l":90.6,"p":"u","s":1100,"a":4.3,"b":10.1},{"l":90.6,"p":"u","s":1292,"a":3.5,"b":14.1},{"l":90.6,"p":"u","s":1619,"a":2.9,"b":19.1},{"l":90.6,"p":"u","s":1753,"a":2.7,"b":19.5},{"l":90.6,"p":"u","s":2003,"a":2.7,"b":18.9},{"l":90.6,"p":"u","s":2157,"a":3.2,"b":20.7},{"l":90.6,"p":"u","s":2628,"a":3.1,"b":27.2},{"l":90.6,"p":"u","s":2993,"a":3.1,"b":31.3},{"l":90.6,"p":"u","s":3098,"a":3.1,"b":31.8},{"l":90.6,"p":"u","s":3271,"a":3.1,"b":31.8},{"l":90.6,"p":"u","s":3560,"a":3.1,"b":30.8},{"l":90.6,"p":"u","s":3944,"a":3.1,"b":28.9},{"l":90.6,"p":"u","s":4520,"a":3.6,"b":26.1},{"l":90.6,"p":"u","s":5231,"a":4.3,"b":22.8},{"l":90.6,"p":"u","s":6155,"a":5.2,"b":19.4},{"l":90.6,"p":"u","s":7113,"a":5.65,"b":17},{"l":90.6,"p":"u","s":8000,"a":5.85,"b":15},
{"l":90.6,"p":"d","s":1043,"a":-6.2,"b":-6},{"l":90.6,"p":"d","s":1100,"a":-9,"b":-4.5},{"l":90.6,"p":"d","s":1216,"a":-11.4,"b":-3.9},{"l":90.6,"p":"d","s":1446,"a":-15.2,"b":-3.5},{"l":90.6,"p":"d","s":1811,"a":-20.5,"b":-3.3},{"l":90.6,"p":"d","s":1917,"a":-21.3,"b":-3.2},{"l":90.6,"p":"d","s":2138,"a":-21.3,"b":-3.5},{"l":90.6,"p":"d","s":2368,"a":-22.3,"b":-3.6},{"l":90.6,"p":"d","s":2945,"a":-29.1,"b":-3.7},{"l":90.6,"p":"d","s":3294,"a":-32,"b":-3.7},{"l":90.6,"p":"d","s":3513,"a":-33,"b":-3.7},{"l":90.6,"p":"d","s":3804,"a":-32.2,"b":-3.7},{"l":90.6,"p":"d","s":4232,"a":-30.6,"b":-3.74},{"l":90.6,"p":"d","s":4520,"a":-28.8,"b":-4.1},{"l":90.6,"p":"d","s":5193,"a":-25.5,"b":-4.9},{"l":90.6,"p":"d","s":6155,"a":-21,"b":-5.7},{"l":90.6,"p":"d","s":7113,"a":-18.6,"b":-6.06},{"l":90.6,"p":"d","s":8000,"a":-17.1,"b":-6.45},
{"l":91.5,"p":"u","s":1196,"a":6.5,"b":7},{"l":91.5,"p":"u","s":1292,"a":4.5,"b":9.5},{"l":91.5,"p":"u","s":1408,"a":4.3,"b":12.1},{"l":91.5,"p":"u","s":1696,"a":4,"b":16.8},{"l":91.5,"p":"u","s":2000,"a":3.9,"b":16},{"l":91.5,"p":"u","s":2176,"a":3.9,"b":15.8},{"l":91.5,"p":"u","s":2599,"a":3.9,"b":23},{"l":91.5,"p":"u","s":2983,"a":3.9,"b":26.3},{"l":91.5,"p":"u","s":3367,"a":3.9,"b":28.7},{"l":91.5,"p":"u","s":3944,"a":4.2,"b":27.3},{"l":91.5,"p":"u","s":4520,"a":4.4,"b":25.6},{"l":91.5,"p":"u","s":5288,"a":5.2,"b":22.4},{"l":91.5,"p":"u","s":6155,"a":5.8,"b":19.3},{"l":91.5,"p":"u","s":7113,"a":6.2,"b":16.9},{"l":91.5,"p":"u","s":8000,"a":6.5,"b":14.9},
{"l":91.5,"p":"d","s":1216,"a":-6.1,"b":-5.8},{"l":91.5,"p":"d","s":1312,"a":-8.5,"b":-4.4},{"l":91.5,"p":"d","s":1446,"a":-12,"b":-4.1},{"l":91.5,"p":"d","s":1792,"a":-16,"b":-3.9},{"l":91.5,"p":"d","s":2176,"a":-18,"b":-3.9},{"l":91.5,"p":"d","s":2368,"a":-18.5,"b":-4},{"l":91.5,"p":"d","s":2945,"a":-24,"b":-4.1},{"l":91.5,"p":"d","s":3500,"a":-29.8,"b":-4.4},{"l":91.5,"p":"d","s":4000,"a":-29.9,"b":-4.6},{"l":91.5,"p":"d","s":4311,"a":-29.7,"b":-4.7},{"l":91.5,"p":"d","s":5193,"a":-25.4,"b":-5.7},{"l":91.5,"p":"d","s":6155,"a":-20.9,"b":-6.2},{"l":91.5,"p":"d","s":7113,"a":-18.5,"b":-6.6},{"l":91.5,"p":"d","s":8000,"a":-17,"b":-7},
{"l":92.5,"p":"u","s":1475,"a":7.6,"b":8},{"l":92.5,"p":"u","s":1561,"a":5.8,"b":10},{"l":92.5,"p":"u","s":1696,"a":5.3,"b":13.5},{"l":92.5,"p":"u","s":1984,"a":4.5,"b":13.8},{"l":92.5,"p":"u","s":2080,"a":4.5,"b":12.1},{"l":92.5,"p":"u","s":2464,"a":4.4,"b":15.5},{"l":92.5,"p":"u","s":2599,"a":4.4,"b":17},{"l":92.5,"p":"u","s":2983,"a":4.5,"b":21},{"l":92.5,"p":"u","s":3367,"a":4.7,"b":24.9},{"l":92.5,"p":"u","s":3944,"a":4.7,"b":24.4},{"l":92.5,"p":"u","s":4520,"a":5,"b":23},{"l":92.5,"p":"u","s":5193,"a":6.2,"b":20},{"l":92.5,"p":"u","s":6155,"a":6.9,"b":18},{"l":92.5,"p":"u","s":7113,"a":7.4,"b":15.8},{"l":92.5,"p":"u","s":8000,"a":7.8,"b":13.45},
{"l":92.5,"p":"d","s":1504,"a":-7.5,"b":-7.3},{"l":92.5,"p":"d","s":1638,"a":-11.4,"b":-5},{"l":92.5,"p":"d","s":1792,"a":-12.8,"b":-4.4},{"l":92.5,"p":"d","s":1888,"a":-14.3,"b":-4.4},{"l":92.5,"p":"d","s":2176,"a":-15.3,"b":-4.3},{"l":92.5,"p":"d","s":2368,"a":-14.3,"b":-4.4},{"l":92.5,"p":"d","s":2945,"a":-19.3,"b":-5},{"l":92.5,"p":"d","s":3500,"a":-27,"b":-5.4},{"l":92.5,"p":"d","s":4000,"a":-28,"b":-5.4},{"l":92.5,"p":"d","s":4520,"a":-26,"b":-5.5},{"l":92.5,"p":"d","s":5193,"a":-23,"b":-6.7},{"l":92.5,"p":"d","s":6153,"a":-20,"b":-6.9},{"l":92.5,"p":"d","s":7114,"a":-18,"b":-7.2},{"l":92.5,"p":"d","s":8000,"a":-16,"b":-7.4},
{"l":93.6,"p":"u","s":2762,"a":9.6,"b":10},{"l":93.6,"p":"u","s":2983,"a":7.5,"b":13.8},{"l":93.6,"p":"u","s":3175,"a":6.5,"b":16.5},{"l":93.6,"p":"u","s":3367,"a":6,"b":20},{"l":93.6,"p":"u","s":3752,"a":5.7,"b":20.4},{"l":93.6,"p":"u","s":4520,"a":5.7,"b":19.1},{"l":93.6,"p":"u","s":5193,"a":8.5,"b":16.8},{"l":93.6,"p":"u","s":5480,"a":10,"b":15.4},{"l":93.6,"p":"u","s":5904,"a":12.2,"b":12.4},
{"l":93.6,"p":"v","s":1840,"a":7.8,"b":7.8},{"l":93.6,"p":"v","s":1900,"a":6.5,"b":9.1},{"l":93.6,"p":"v","s":1955,"a":7.8,"b":7.8},
{"l":93.6,"p":"d","s":2784,"a":-9.8,"b":-9.6},{"l":93.6,"p":"d","s":2900,"a":-12,"b":-8},{"l":93.6,"p":"d","s":3000,"a":-14,"b":-7.5},{"l":93.6,"p":"d","s":3367,"a":-19.5,"b":-6.7},{"l":93.6,"p":"d","s":3800,"a":-21.8,"b":-6.2},{"l":93.6,"p":"d","s":4136,"a":-22,"b":-6},{"l":93.6,"p":"d","s":4700,"a":-20.8,"b":-7},{"l":93.6,"p":"d","s":5193,"a":-19.3,"b":-8.4},{"l":93.6,"p":"d","s":6153,"a":-16.6,"b":-10.4},{"l":93.6,"p":"d","s":6922,"a":-13.4,"b":-13.2},
{"l":93.6,"p":"w","s":1878,"a":-8.6,"b":-8.6},{"l":93.6,"p":"w","s":1950,"a":-10.5,"b":-6.7},{"l":93.6,"p":"w","s":2020,"a":-11,"b":-6.1},{"l":93.6,"p":"w","s":2100,"a":-10,"b":-7},{"l":93.6,"p":"w","s":2157,"a":-8.6,"b":-8.6},
{"l":94.8,"p":"u","s":3723,"a":11.2,"b":11.4},{"l":94.8,"p":"u","s":3850,"a":9.9,"b":12.8},{"l":94.8,"p":"u","s":4000,"a":9.4,"b":13.3},{"l":94.8,"p":"u","s":4150,"a":9.9,"b":12.8},{"l":94.8,"p":"u","s":4270,"a":11.2,"b":11.4},
{"l":94.8,"p":"d","s":3775,"a":-12.2,"b":-12},{"l":94.8,"p":"d","s":4000,"a":-14.5,"b":-9.8},{"l":94.8,"p":"d","s":4270,"a":-15.4,"b":-8.9},{"l":94.8,"p":"d","s":4550,"a":-14.5,"b":-9.8},{"l":94.8,"p":"d","s":4764,"a":-12.2,"b":-12}
],"lines":[
{"k":"a","i":1,"s":2263,"t":49.2},{"k":"a","i":2,"s":2176,"t":48.8},{"k":"a","i":3,"s":1907,"t":45.5},{"k":"a","i":4,"s":1494,"t":38.1},{"k":"a","i":5,"s":1302,"t":37.8},{"k":"a","i":6,"s":1177,"t":34.6},
{"k":"b","i":1,"s":860,"t":25.3},{"k":"b","i":2,"s":678,"t":19.7},{"k":"b","i":3,"s":543,"t":14.4},{"k":"b","i":4,"s":418,"t":8.5},{"k":"b","i":5,"s":390,"t":4.5},{"k":"b","i":6,"s":428,"t":2.5},{"k":"b","i":7,"s":524,"t":1.9},{"k":"b","i":8,"s":543,"t":-1.4},{"k":"b","i":9,"s":428,"t":-3.1},{"k":"b","i":10,"s":409,"t":-5.1},{"k":"b","i":11,"s":495,"t":-9.7},{"k":"b","i":12,"s":697,"t":-16.6},{"k":"b","i":13,"s":889,"t":-22.3},{"k":"b","i":14,"s":1081,"t":-27.2},
{"k":"c","i":1,"s":1517,"t":-36.8},{"k":"c","i":2,"s":1619,"t":-38.6},{"k":"c","i":3,"s":1811,"t":-39.1},{"k":"c","i":4,"s":1984,"t":-41.8},{"k":"c","i":5,"s":2272,"t":-45.4},{"k":"c","i":6,"s":2560,"t":-48.7},
{"k":"d","i":1,"s":5231,"t":22.9},{"k":"d","i":2,"s":4904,"t":24.4},{"k":"d","i":3,"s":4520,"t":26.1},{"k":"d","i":4,"s":3944,"t":28.9},{"k":"d","i":5,"s":3560,"t":30.8},{"k":"d","i":6,"s":3271,"t":31.8},{"k":"d","i":7,"s":3098,"t":31.8},{"k":"d","i":8,"s":2993,"t":31.3},{"k":"d","i":9,"s":2849,"t":29.8},{"k":"d","i":10,"s":2628,"t":27.3},
{"k":"e","i":1,"s":2157,"t":20.7},{"k":"e","i":2,"s":2003,"t":18.9},{"k":"e","i":3,"s":1753,"t":19.5},{"k":"e","i":4,"s":1619,"t":19.1},{"k":"e","i":5,"s":1292,"t":14.1},{"k":"e","i":6,"s":1100,"t":10.1},{"k":"e","i":7,"s":1014,"t":6.5},{"k":"e","i":8,"s":1062,"t":4.5},{"k":"e","i":9,"s":1292,"t":3.5},{"k":"e","i":10,"s":1754,"t":2.7},{"k":"e","i":11,"s":1984,"t":2.7},{"k":"e","i":12,"s":2099,"t":3.2},{"k":"e","i":13,"s":2945,"t":3.1},{"k":"e","i":14,"s":4136,"t":3.07},{"k":"e","i":15,"s":4520,"t":3.6},{"k":"e","i":16,"s":5096,"t":4.2},{"k":"e","i":17,"s":5480,"t":4.65},{"k":"e","i":18,"s":6153,"t":5.2},{"k":"e","i":19,"s":7114,"t":5.65},{"k":"e","i":20,"s":8000,"t":5.85},
{"k":"f","i":1,"s":1446,"t":-15.2},{"k":"f","i":2,"s":1216,"t":-11.4},{"k":"f","i":3,"s":1100,"t":-9},{"k":"f","i":4,"s":1043,"t":-6.1},{"k":"f","i":5,"s":1081,"t":-4.7},{"k":"f","i":6,"s":1216,"t":-3.9},{"k":"f","i":7,"s":1600,"t":-3.4},{"k":"f","i":8,"s":1984,"t":-3.1},{"k":"f","i":9,"s":2080,"t":-3.6},{"k":"f","i":10,"s":2945,"t":-3.7},{"k":"f","i":11,"s":4232,"t":-3.74},{"k":"f","i":12,"s":4520,"t":-4.1},{"k":"f","i":13,"s":5480,"t":-5.1},{"k":"f","i":14,"s":6153,"t":-5.7},{"k":"f","i":15,"s":7114,"t":-6.06},{"k":"f","i":16,"s":8000,"t":-6.45},
{"k":"g","i":1,"s":1811,"t":-20.5},{"k":"g","i":2,"s":1917,"t":-21.3},{"k":"g","i":3,"s":2138,"t":-21.3},{"k":"g","i":4,"s":2253,"t":-21.1},{"k":"g","i":5,"s":2368,"t":-22.3},{"k":"g","i":6,"s":2945,"t":-29.1},{"k":"g","i":7,"s":3294,"t":-32},{"k":"g","i":8,"s":3513,"t":-33},{"k":"g","i":9,"s":3804,"t":-32.2},{"k":"g","i":10,"s":4311,"t":-30.2},
{"k":"h","i":1,"s":8000,"t":2.2},{"k":"h","i":2,"s":5846,"t":1.75},{"k":"h","i":3,"s":5193,"t":-1.6},{"k":"h","i":4,"s":5117,"t":-2.2},{"k":"h","i":5,"s":8000,"t":-2.85}
],"labels":[{"n":"80","s":902,"t":32.4},{"n":"90","s":2339,"t":26.8},{"n":"90","s":1536,"t":-21.5},{"n":"80","s":1193,"t":-36}],"bar":[
{"v":30,"w":32.3,"c":30},{"v":32,"w":34.3,"c":32},{"v":34,"w":36.3,"c":34},{"v":36,"w":38.3,"c":36},{"v":38,"w":40.3,"c":38},{"v":40,"w":42.3,"c":40},{"v":42,"w":44.3,"c":42},{"v":44,"w":46.3,"c":44},{"v":46,"w":48.3,"c":46},{"v":48,"w":50.3,"c":48},{"v":50,"w":52.3,"c":50},{"v":52,"w":54.3,"c":52},{"v":54,"w":56.3,"c":54},{"v":56,"w":58.3,"c":56},{"v":58,"w":60.3,"c":58},{"v":60,"w":62.3,"c":60},{"v":62,"w":64.3,"c":62},{"v":64,"w":66.3,"c":64},{"v":66,"w":68.3,"c":66},{"v":68,"w":70.3,"c":68},{"v":70,"w":72.3,"c":70},{"v":72,"w":74.3,"c":73},{"v":74,"w":76.3,"c":75},{"v":76,"w":78.3,"c":77},{"v":78,"w":80.3,"c":79},{"v":80,"w":82.3,"c":81},{"v":82,"w":84.3,"c":83},{"v":84,"w":86.3,"c":85},{"v":86,"w":88.3,"c":87},{"v":88,"w":90.3,"c":89},{"v":90,"w":92.3,"c":91},{"v":92,"w":94.3,"c":93},{"v":94,"w":96.3,"c":95},{"v":96,"w":98.3,"c":97},{"v":98,"w":100,"c":100}
]},"hconcat":[{"width":1368,"height":806,"layer":[
{"data":{"name":"bands"},"transform":[{"filter":"datum.l==30"}],"mark":{"type":"area","interpolate":"linear"},"encoding":{
"x":{"field":"s","type":"quantitative","title":"Speed (rpm)","scale":{"domain":[115,8000],"nice":false,"zero":false},"axis":{"values":[2000,4000,6000,8000],"domain":false,"labelPadding":12,"titlePadding":18,"titleX":706,"labelFlush":false,"format":"d"}},
"y":{"field":"a","type":"quantitative","title":"Torque (Nm)","scale":{"domain":[-80,80],"nice":false,"zero":false},"axis":{"values":[-80,-40,0,40,80],"domain":false,"labelPadding":14,"titlePadding":13,"labelFlush":false}},
"y2":{"field":"b"},
"color":{"field":"l","type":"quantitative","legend":null,"scale":{"domain":[30,50,70,85,100],"range":["#0000ff","#00ffff","#00ff00","#ffff00","#ff0000"],"interpolate":"rgb"}},
"detail":[{"field":"l"},{"field":"p"}]}},
{"data":{"name":"bands"},"transform":[{"filter":"datum.l>30"}],"mark":{"type":"area","interpolate":"monotone"},"encoding":{
"x":{"field":"s","type":"quantitative"},"y":{"field":"a","type":"quantitative"},"y2":{"field":"b"},
"color":{"field":"l","type":"quantitative","legend":null},
"detail":[{"field":"l"},{"field":"p"}]}},
{"data":{"name":"lines"},"mark":{"type":"line","stroke":"#333333","strokeWidth":1.2},"encoding":{"x":{"field":"s","type":"quantitative"},"y":{"field":"t","type":"quantitative"},"detail":{"field":"k"},"order":{"field":"i"}}},
{"data":{"name":"labels"},"mark":{"type":"text","fontSize":65,"font":"Liberation Sans","color":"#000","baseline":"middle","align":"center"},"encoding":{"x":{"field":"s","type":"quantitative"},"y":{"field":"t","type":"quantitative"},"text":{"field":"n"}}},
{"data":{"values":[{"f":1}]},"mark":{"type":"rect","fill":null,"stroke":"#000","strokeWidth":3},"encoding":{"x":{"datum":115},"x2":{"datum":8000},"y":{"datum":-80},"y2":{"datum":80}}}
]},
{"width":77,"height":806,"layer":[
{"data":{"name":"bar"},"mark":{"type":"rect"},"encoding":{
"x":{"datum":0,"type":"quantitative","scale":{"domain":[0,1]},"axis":null},"x2":{"datum":1},
"y":{"field":"v","type":"quantitative","scale":{"domain":[30,70,100],"range":[711,430,149]},"axis":{"orient":"right","title":null,"values":[30,70,100],"format":".1f","domain":false,"ticks":false,"labelPadding":15,"labelFlush":false}},
"y2":{"field":"w"},
"color":{"field":"c","type":"quantitative","legend":null}}},
{"data":{"values":[{"f":1}]},"mark":{"type":"rect","fill":"#ffffff","opacity":0.5},"encoding":{"x":{"datum":0},"x2":{"datum":0.04},"y":{"datum":30},"y2":{"datum":100}}},
{"data":{"values":[{"n":"η"}]},"mark":{"type":"text","font":"Liberation Sans","fontStyle":"italic","fontSize":74,"align":"left","baseline":"alphabetic","dy":-101,"color":"#000"},"encoding":{"x":{"datum":0},"y":{"datum":100},"text":{"field":"n"}}},
{"data":{"values":[{"n":"sys"}]},"mark":{"type":"text","font":"Liberation Sans","fontStyle":"italic","fontSize":51,"align":"left","baseline":"alphabetic","dy":-84,"dx":44,"color":"#000"},"encoding":{"x":{"datum":0},"y":{"datum":100},"text":{"field":"n"}}},
{"data":{"values":[{"n":"(%)"}]},"mark":{"type":"text","font":"Liberation Sans","fontSize":74,"align":"left","baseline":"alphabetic","dy":-103,"dx":142,"color":"#000"},"encoding":{"x":{"datum":0},"y":{"datum":100},"text":{"field":"n"}}}
]}]}
